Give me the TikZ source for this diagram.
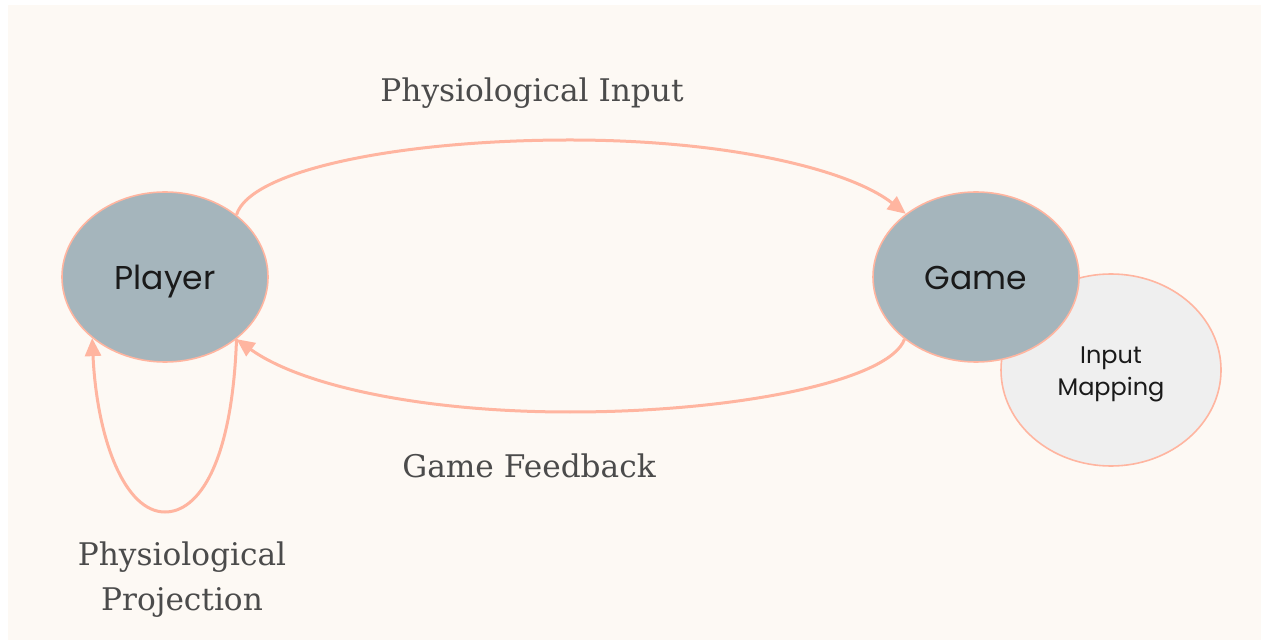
\documentclass[tikz,border=0pt]{standalone}
\usepackage{fontspec}
\usetikzlibrary{arrows.meta,shapes.geometric}
\newfontfamily\labelfont{DejaVu Serif}
\newfontfamily\nodefont{Poppins}
\definecolor{paper}{RGB}{253,249,244}
\definecolor{salmon}{RGB}{255,181,160}
\definecolor{slate}{RGB}{165,181,188}
\definecolor{mist}{RGB}{239,239,239}
\definecolor{ink}{RGB}{26,26,26}
\definecolor{labelink}{RGB}{75,75,75}
\tikzset{
  agent/.style={ellipse, draw=salmon, line width=0.8pt, fill=slate,
    minimum width=103pt, minimum height=85pt, inner sep=0pt,
    text height=12.5pt, text depth=0pt,
    text=ink, font=\nodefont\fontsize{16.5}{19}\selectfont},
  process/.style={ellipse, draw=salmon, line width=0.8pt, fill=mist,
    minimum width=110pt, minimum height=96pt, inner sep=0pt, align=center,
    text=ink, font=\nodefont\fontsize{12}{16}\selectfont},
  flowlabel/.style={text=labelink, align=center,
    font=\labelfont\fontsize{15.6}{22.5}\selectfont},
  flow/.style={draw=salmon, line width=1.5pt,
    -{Triangle[length=9pt,width=8pt]}},
}
\begin{document}
\begin{tikzpicture}[x=0.5pt,y=-0.5pt]
  \useasboundingbox (0,0) rectangle (1261,640);
  \fill[white] (0,0) rectangle (1261,640);
  \fill[paper] (8,5) rectangle (1261,640);

  % nodes
  \node[process] (mapping) at (1111,370) {\rule{0pt}{12.4pt}Input\\Mapping};
  \node[agent] (player) at (165,277) {Player};
  \node[agent] (game) at (976,277) {Game};

  % labels
  \node[flowlabel] (inlabel) at (532,93) {Physiological Input};
  \node[flowlabel] (fblabel) at (529,466) {Game Feedback};
  \node[flowlabel] (projlabel) at (182,580) {Physiological\\Projection};

  % connectors
  \draw[flow] (player.41.7) .. controls (250,170) and (400,140) .. (570,140)
     .. controls (730,140) and (850,170) .. (game.138.8);
  \draw[flow] (game.221) .. controls (890,380) and (740,412) .. (570,412)
     .. controls (420,412) and (300,385) .. (player.-41.7);
  \draw[flow] (player.-41.7) .. controls (232,465) and (198,512) .. (165,512)
     .. controls (125,512) and (97,440) .. (player.220.8);
\end{tikzpicture}
\end{document}
